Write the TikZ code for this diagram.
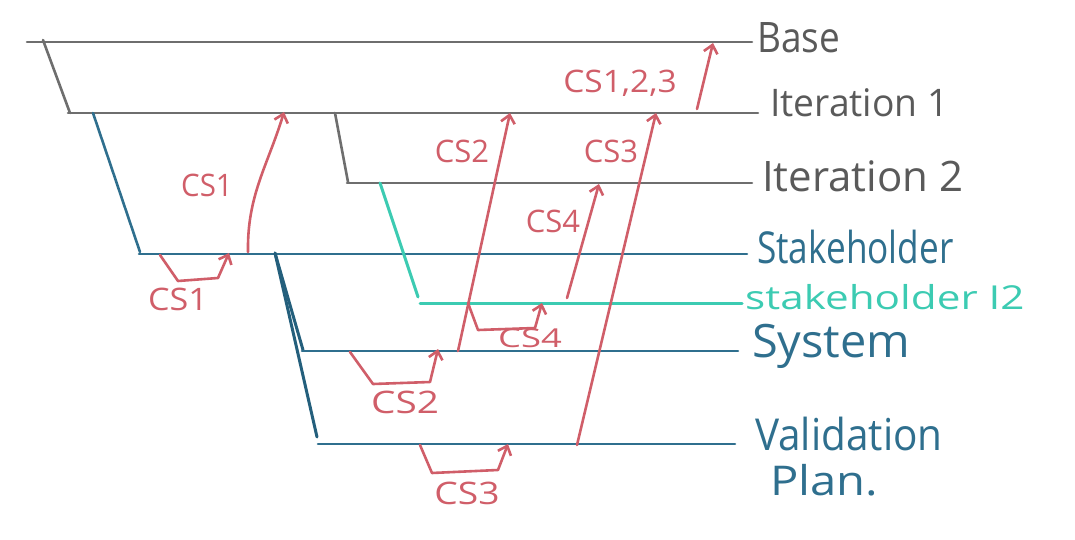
\documentclass[tikz,border=0pt]{standalone}
\usepackage{fontspec}
\setmainfont{Open Sans}
\usetikzlibrary{arrows.meta}
\definecolor{pgray}{HTML}{6E6E6E}
\definecolor{pgraytext}{HTML}{5A5A5A}
\definecolor{pblue}{HTML}{2F6F8E}
\definecolor{pdblue}{HTML}{245F7C}
\definecolor{pteal}{HTML}{3CCBB2}
\definecolor{pred}{HTML}{D05E69}
\begin{document}
\begin{tikzpicture}[x=1pt,y=-1pt,
  lvl/.style={line width=2.6pt,line cap=round,line join=round},
  graylvl/.style={lvl,draw=pgray},
  bluelvl/.style={lvl,draw=pblue},
  dbluelvl/.style={lvl,draw=pdblue,line width=3pt},
  teallvl/.style={lvl,draw=pteal,line width=3pt},
  redarrow/.style={draw=pred,line width=2.6pt,line cap=round,line join=round,
    -{Straight Barb[length=8pt,width=14pt]}},
  biglabel/.style={anchor=base west,inner sep=0pt,font=\fontsize{42}{46}\selectfont},
  redlabel/.style={text=pred,inner sep=0pt,font=\fontsize{31}{34}\selectfont}
]
\useasboundingbox (0,0) rectangle (1075,540);

% ---- coordinates of the level lines
\coordinate (b0) at (27,42);   \coordinate (b1) at (752,42);
\coordinate (g1a) at (43,40);  \coordinate (g1b) at (70,113);
\coordinate (i1a) at (68,113); \coordinate (i1b) at (758,113);
\coordinate (g2a) at (335,113); \coordinate (g2b) at (348,182);
\coordinate (i2a) at (347,183); \coordinate (i2b) at (752,183);
\coordinate (bla) at (93,113); \coordinate (blb) at (140,252);
\coordinate (sa) at (139,254); \coordinate (sb) at (747,254);
\coordinate (ta) at (380,183); \coordinate (tb) at (418,297);
\coordinate (tla) at (420,303); \coordinate (tlb) at (742,303);
\coordinate (da) at (275,253); \coordinate (db) at (303,350); \coordinate (dc) at (317,437);
\coordinate (sya) at (302,351); \coordinate (syb) at (738,351);
\coordinate (va) at (318,444); \coordinate (vb) at (735,444);

% ---- level lines
\draw[graylvl] (b0) -- (b1);
\draw[graylvl] (g1a) -- (g1b);
\draw[graylvl] (i1a) -- (i1b);
\draw[graylvl] (g2a) -- (g2b);
\draw[graylvl] (i2a) -- (i2b);
\draw[bluelvl] (bla) -- (blb);
\draw[bluelvl] (sa) -- (sb);
\draw[teallvl] (ta) -- (tb);
\draw[teallvl] (tla) -- (tlb);
\draw[dbluelvl] (da) -- (db);
\draw[dbluelvl] (da) -- (dc);
\draw[bluelvl] (sya) -- (syb);
\draw[bluelvl] (va) -- (vb);

% ---- level labels
\node[biglabel,text=pgraytext] (lbase) at (757,53) {\scalebox{0.88}[1]{Base}};
\node[biglabel,text=pgraytext,font=\fontsize{38}{42}\selectfont] (lit1) at (770,117) {\scalebox{0.98}[1]{Iteration 1}};
\node[biglabel,text=pgraytext] (lit2) at (762,191) {\scalebox{1.0}[1]{Iteration 2}};
\node[biglabel,text=pblue,font=\fontsize{44}{48}\selectfont] (lsh) at (757,263) {\scalebox{0.8}[1]{Stakeholder}};
\node[biglabel,text=pteal,font=\fontsize{33}{36}\selectfont] (lsh2) at (745,309) {\scalebox{1.28}[1]{stakeholder I2}};
\node[biglabel,text=pblue,font=\fontsize{46}{50}\selectfont] (lsys) at (752,357) {\scalebox{1.02}[1]{System}};
\node[biglabel,text=pblue,font=\fontsize{44}{48}\selectfont] (lval) at (755,450) {\scalebox{0.92}[1]{Validation}};
\node[biglabel,text=pblue,font=\fontsize{41}{46}\selectfont] (lplan) at (770,495) {\scalebox{1.15}[1]{Plan.}};

% ---- red coordinates
\coordinate (c1s) at (160,255); \coordinate (c1p) at (178,281); \coordinate (c1q) at (218,278); \coordinate (c1e) at (229,253);
\coordinate (u1s) at (248,252); \coordinate (u1e) at (284,112);
\coordinate (l2s) at (458,351); \coordinate (l2e) at (510,113);
\coordinate (c2s) at (350,352); \coordinate (c2p) at (373,384); \coordinate (c2q) at (430,382); \coordinate (c2e) at (438,349);
\coordinate (c4s) at (468,303); \coordinate (c4p) at (478,330); \coordinate (c4q) at (535,328); \coordinate (c4e) at (542,303);
\coordinate (u4s) at (567,298); \coordinate (u4e) at (599,184);
\coordinate (l3s) at (577,445); \coordinate (l3e) at (656,113);
\coordinate (c3s) at (420,445); \coordinate (c3p) at (432,473); \coordinate (c3q) at (498,470); \coordinate (c3e) at (508,444);
\coordinate (ats) at (697,109); \coordinate (ate) at (713,43);

% ---- red arrows
\draw[redarrow] (c1s) -- (c1p) -- (c1q) -- (c1e);
\draw[redarrow] (u1s) .. controls (247,195) and (268,165) .. (u1e);
\draw[redarrow] (l2s) -- (l2e);
\draw[redarrow] (c2s) -- (c2p) -- (c2q) -- (c2e);
\draw[redarrow] (c4s) -- (c4p) -- (c4q) -- (c4e);
\draw[redarrow] (u4s) -- (u4e);
\draw[redarrow] (l3s) -- (l3e);
\draw[redarrow] (c3s) -- (c3p) -- (c3q) -- (c3e);
\draw[redarrow] (ats) -- (ate);

% ---- red labels
\node[redlabel] (rcs1u) at (207,185) {\scalebox{0.95}[1]{CS1}};
\node[redlabel] (rcs1l) at (178,299) {\scalebox{1.1}[1]{CS1}};
\node[redlabel] (rcs2u) at (462,151) {CS2};
\node[redlabel] (rcs2l) at (405,402) {\scalebox{1.25}[1]{CS2}};
\node[redlabel] (rcs3u) at (611,151) {CS3};
\node[redlabel] (rcs3l) at (467,493) {\scalebox{1.2}[1]{CS3}};
\node[redlabel] (rcs4u) at (553,221) {CS4};
\node[redlabel,font=\fontsize{26}{30}\selectfont] (rcs4l) at (530,338) {\scalebox{1.4}[1]{CS4}};
\node[redlabel] (rcs123) at (620,83) {\scalebox{1.08}[1]{CS1,2,3}};
\end{tikzpicture}
\end{document}
